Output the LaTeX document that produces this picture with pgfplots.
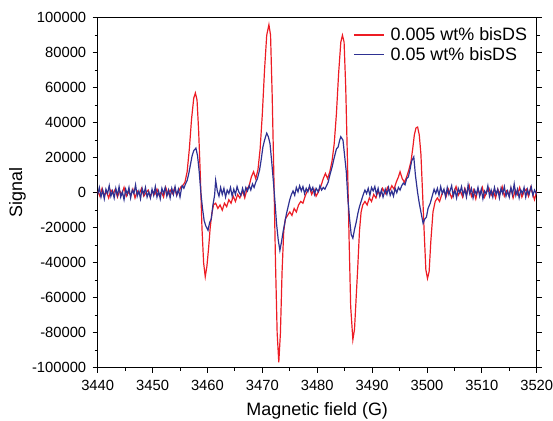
\documentclass[border=0pt]{standalone}
\usepackage{pgfplots}
\pgfplotsset{compat=1.18}
\usepackage{pgfplotstable}
\usepackage{fontspec}
\setmainfont{Liberation Sans}
\definecolor{redline}{RGB}{237,28,36}
\definecolor{blueline}{RGB}{46,49,146}

\pgfplotstableread{
x y
3440.0 1000
3440.4 -2000
3440.8 2500
3441.2 -1500
3441.6 500
3442.0 -3000
3442.4 1500
3442.8 -500
3443.2 2000
3443.6 -2500
3444.0 1000
3444.4 -1000
3444.8 3000
3445.2 -2000
3445.6 500
3446.0 -1500
3446.4 2000
3446.8 -3000
3447.2 1000
3447.6 -500
3448.0 2500
3448.4 -2000
3448.8 0
3449.2 1500
3449.6 -2500
3450.0 1000
3450.4 -1000
3450.8 2000
3451.2 -1500
3451.6 500
3452.0 -2500
3452.4 3000
3452.8 -1000
3453.2 1500
3453.6 -500
3454.0 2500
3454.4 -1500
3454.8 1000
3455.2 3500
3455.5 4000
3455.9 6000
3456.3 12000
3456.7 25000
3457.1 42000
3457.5 54000
3457.8 57000
3458.1 53000
3458.4 35000
3458.7 10000
3459.0 -20000
3459.3 -40000
3459.6 -48000
3459.9 -42000
3460.2 -32000
3460.5 -20000
3460.8 -12000
3461.1 -7000
3461.5 -6000
3461.9 -9000
3462.3 -7000
3462.7 -10000
3463.1 -6000
3463.5 -8000
3463.9 -4000
3464.3 -6000
3464.7 -2000
3465.1 -5000
3465.5 -1000
3465.9 -3000
3466.4 1000
3466.8 -3000
3467.2 2000
3467.6 4000
3468.0 9000
3468.4 12000
3468.8 8000
3469.2 13000
3469.6 25000
3470.0 45000
3470.4 70000
3470.8 90000
3471.2 96000
3471.5 90000
3471.8 55000
3472.1 10000
3472.4 -40000
3472.7 -80000
3473.0 -97000
3473.3 -80000
3473.6 -45000
3473.9 -22000
3474.2 -15000
3474.6 -13000
3475.0 -11000
3475.4 -13000
3475.8 -9000
3476.2 -11000
3476.6 -7000
3477.0 -5000
3477.4 -6000
3477.8 -2000
3478.2 1000
3478.6 3000
3479.0 -1000
3479.4 2000
3479.8 -2000
3480.3 1000
3480.7 4000
3481.1 8000
3481.5 11000
3481.9 8000
3482.3 12000
3482.7 18000
3483.1 28000
3483.5 45000
3483.9 68000
3484.3 86000
3484.6 90000
3484.9 86000
3485.2 60000
3485.5 20000
3485.8 -25000
3486.1 -65000
3486.5 -84000
3486.8 -78000
3487.1 -60000
3487.4 -42000
3487.7 -22000
3488.0 -11000
3488.3 -7000
3488.7 -5000
3489.1 -7000
3489.5 -3000
3489.9 -5000
3490.3 -1000
3490.7 -3000
3491.1 1000
3491.5 -1500
3491.9 2500
3492.4 -500
3492.8 3000
3493.2 1000
3493.6 4000
3494.0 2000
3494.4 6000
3494.8 9000
3495.1 12000
3495.5 8000
3495.9 6000
3496.3 9000
3496.7 13000
3497.1 18000
3497.4 25000
3497.7 33000
3498.0 37000
3498.3 37500
3498.6 33000
3498.9 22000
3499.2 0
3499.5 -23000
3499.8 -44000
3500.1 -49000
3500.4 -45000
3500.7 -28000
3501.1 -11000
3501.5 -5000
3501.9 -3000
3502.3 -5000
3502.7 -1000
3503.1 1500
3503.5 -2000
3503.9 2000
3504.5 -3000
3504.9 500
3505.3 3500
3505.7 -1500
3506.1 1000
3506.5 -2500
3506.9 2500
3507.3 -500
3507.7 4000
3508.1 -2000
3508.5 1500
3508.9 -3500
3509.3 2000
3509.7 -1000
3510.1 3000
3510.5 -2500
3510.9 500
3511.3 2500
3511.7 -1500
3512.1 1000
3512.5 -3000
3512.9 2000
3513.3 -500
3513.7 3500
3514.1 -2000
3514.5 1000
3514.9 -1500
3515.3 2500
3515.7 -3000
3516.1 1500
3516.5 -1000
3516.9 3000
3517.3 -2500
3517.7 500
3518.1 2000
3518.5 -2000
3518.9 3000
3519.3 -1000
3519.6 -4000
3520.0 1000
}\redtable

\pgfplotstableread{
x y
3440.0 -1000
3440.3 3000
3440.6 -2500
3440.9 1500
3441.2 -3500
3441.5 2000
3441.8 -500
3442.1 4000
3442.4 -2000
3442.7 1000
3443.0 -3000
3443.3 2500
3443.6 -1500
3443.9 3500
3444.2 -2500
3444.5 500
3444.8 -4000
3445.1 2000
3445.4 -1000
3445.7 3000
3446.0 -3000
3446.3 1500
3446.6 -500
3446.9 4500
3447.2 -2000
3447.5 1000
3447.8 -3500
3448.1 2500
3448.4 -1000
3448.7 3000
3449.0 -2500
3449.3 500
3449.6 -3000
3449.9 2000
3450.2 -1500
3450.5 3500
3450.8 -2500
3451.1 1000
3451.4 -3500
3451.7 2500
3452.0 -500
3452.3 3000
3452.6 -2000
3452.9 1500
3453.2 -3000
3453.5 2500
3453.8 -1000
3454.1 3500
3454.4 -1500
3454.7 2000
3455.0 -2500
3455.3 3000
3455.4 4000
3455.7 2500
3456.0 5000
3456.3 7000
3456.6 11000
3456.9 16000
3457.2 21000
3457.5 24000
3457.9 25500
3458.2 21000
3458.5 12000
3458.8 0
3459.1 -9000
3459.4 -16000
3459.7 -19000
3460.1 -21500
3460.4 -17000
3460.7 -15000
3461.0 -7000
3461.3 -1500
3461.5 7000
3461.8 1000
3462.1 -2000
3462.4 3000
3462.7 -1000
3463.0 2500
3463.3 -2500
3463.6 1500
3463.9 -500
3464.2 3000
3464.5 -2000
3464.8 2000
3465.1 -1000
3465.4 3500
3465.7 500
3466.1 -1500
3466.4 2500
3466.7 -1000
3467.0 3000
3467.3 1000
3467.6 4000
3467.9 1500
3468.2 5000
3468.5 3000
3468.8 6000
3469.1 8000
3469.5 13000
3469.8 19000
3470.1 26000
3470.4 30000
3470.8 34000
3471.1 32000
3471.4 28000
3471.7 18000
3472.0 7000
3472.3 -5000
3472.6 -18000
3472.9 -27000
3473.2 -33000
3473.5 -28000
3473.8 -22000
3474.1 -17000
3474.4 -12000
3474.7 -8000
3475.0 -4000
3475.3 -1000
3475.6 1000
3475.9 -1500
3476.2 3000
3476.5 500
3476.8 4000
3477.1 1000
3477.4 3500
3477.7 -500
3478.0 2500
3478.3 500
3478.6 4000
3478.9 1000
3479.2 3000
3479.5 -1000
3479.8 2500
3480.2 500
3480.5 4000
3480.8 1500
3481.1 3000
3481.4 2000
3481.7 4000
3482.0 6000
3482.3 10000
3482.7 14500
3483.1 20000
3483.5 25000
3483.8 26000
3484.1 30000
3484.3 32000
3484.7 30000
3485.0 21000
3485.3 12000
3485.6 -4000
3485.9 -15000
3486.2 -24000
3486.5 -26000
3486.8 -21000
3487.1 -17000
3487.4 -12000
3487.7 -8000
3488.1 -4000
3488.4 -1000
3488.7 1500
3489.0 -500
3489.3 2500
3489.6 -1500
3489.9 3000
3490.2 1000
3490.5 3500
3490.8 -1000
3491.1 2500
3491.4 -2000
3491.7 1500
3492.0 -2500
3492.4 2000
3492.7 -1000
3493.0 3000
3493.3 -1500
3493.6 1000
3493.9 -2000
3494.2 2500
3494.5 0
3494.8 3000
3495.1 1500
3495.4 4000
3495.7 5500
3496.0 4500
3496.3 8000
3496.6 9000
3496.9 13000
3497.2 18000
3497.6 20500
3497.9 10000
3498.3 0
3498.6 -6000
3498.9 -11000
3499.3 -17500
3499.6 -15000
3499.9 -14000
3500.2 -9000
3500.6 -6000
3501.0 -1500
3501.3 2000
3501.6 -500
3501.9 2500
3502.2 -1500
3502.5 3500
3502.8 -500
3503.1 2000
3503.4 -2500
3503.7 3000
3504.0 -1000
3504.5 4000
3504.8 -2000
3505.1 1500
3505.4 -3000
3505.7 2500
3506.0 0
3506.3 3500
3506.6 -1500
3506.9 2000
3507.2 -2500
3507.5 4500
3507.8 -500
3508.1 2500
3508.4 -3000
3508.7 1500
3509.0 -1000
3509.3 3000
3509.6 -2000
3509.9 2000
3510.2 -3500
3510.5 1000
3510.8 -500
3511.1 4000
3511.4 -2000
3511.7 1500
3512.0 -2500
3512.3 3000
3512.6 -1000
3512.9 2000
3513.2 -3000
3513.5 2500
3513.8 -500
3514.1 3500
3514.4 -2000
3514.7 1000
3515.0 -2500
3515.3 3000
3515.6 -1000
3515.9 5000
3516.2 -1500
3516.5 2000
3516.8 -3000
3517.1 1500
3517.4 -500
3517.7 3000
3518.0 -2500
3518.3 2000
3518.6 -1000
3519.0 3500
3519.3 -1500
3519.6 1500
3520.0 -1000
}\bluetable

\begin{document}
\begin{tikzpicture}
\begin{axis}[
  scale only axis,
  width=439bp, height=350bp,
  xmin=3440, xmax=3520,
  ymin=-100000, ymax=100000,
  xtick={3440,3450,...,3520},
  ytick={-100000,-80000,...,100000},
  minor x tick num=1,
  minor y tick num=1,
  xtick pos=bottom,
  ytick pos=both,
  tick align=outside,
  major tick length=5bp,
  minor tick length=3bp,
  axis line style={line width=1.1pt},
  every tick/.style={line width=0.9pt, black},
  scaled y ticks=false,
  scaled x ticks=false,
  /pgf/number format/assume math mode=true,
  x tick label style={/pgf/number format/.cd, fixed, 1000 sep={}, /tikz/.cd, yshift=-4bp},
  y tick label style={/pgf/number format/.cd, fixed, 1000 sep={}, /tikz/.cd, xshift=-3bp},
  tick label style={font=\fontsize{14.8}{17}\selectfont},
  xlabel={Magnetic field (G)},
  ylabel={Signal},
  label style={font=\fontsize{18}{21}\selectfont},
  xlabel style={at={(axis description cs:0.5,-0.123)}, anchor=center},
  ylabel style={at={(axis description cs:-0.1827,0.5)}, anchor=center},
  legend style={at={(0.99,0.983)}, anchor=north east, draw=none, fill=none,
    font=\fontsize{18}{20}\selectfont, row sep=1bp,
    legend cell align=left},
  legend image code/.code={\draw[#1] (0bp,0bp) -- (30bp,0bp); \path (34bp,0bp);},
]
\addplot[redline, line width=1.2pt] table[x=x,y=y] {\redtable};
\addlegendentry{0.005 wt\% bisDS}
\addplot[blueline, line width=1.2pt] table[x=x,y=y] {\bluetable};
\addlegendentry{0.05 wt\% bisDS}
\end{axis}
\pgfresetboundingbox
\path ([shift={(-97.7bp,-53bp)}]current axis.south west) rectangle ([shift={(16.3bp,17.7bp)}]current axis.north east);
\end{tikzpicture}
\end{document}
